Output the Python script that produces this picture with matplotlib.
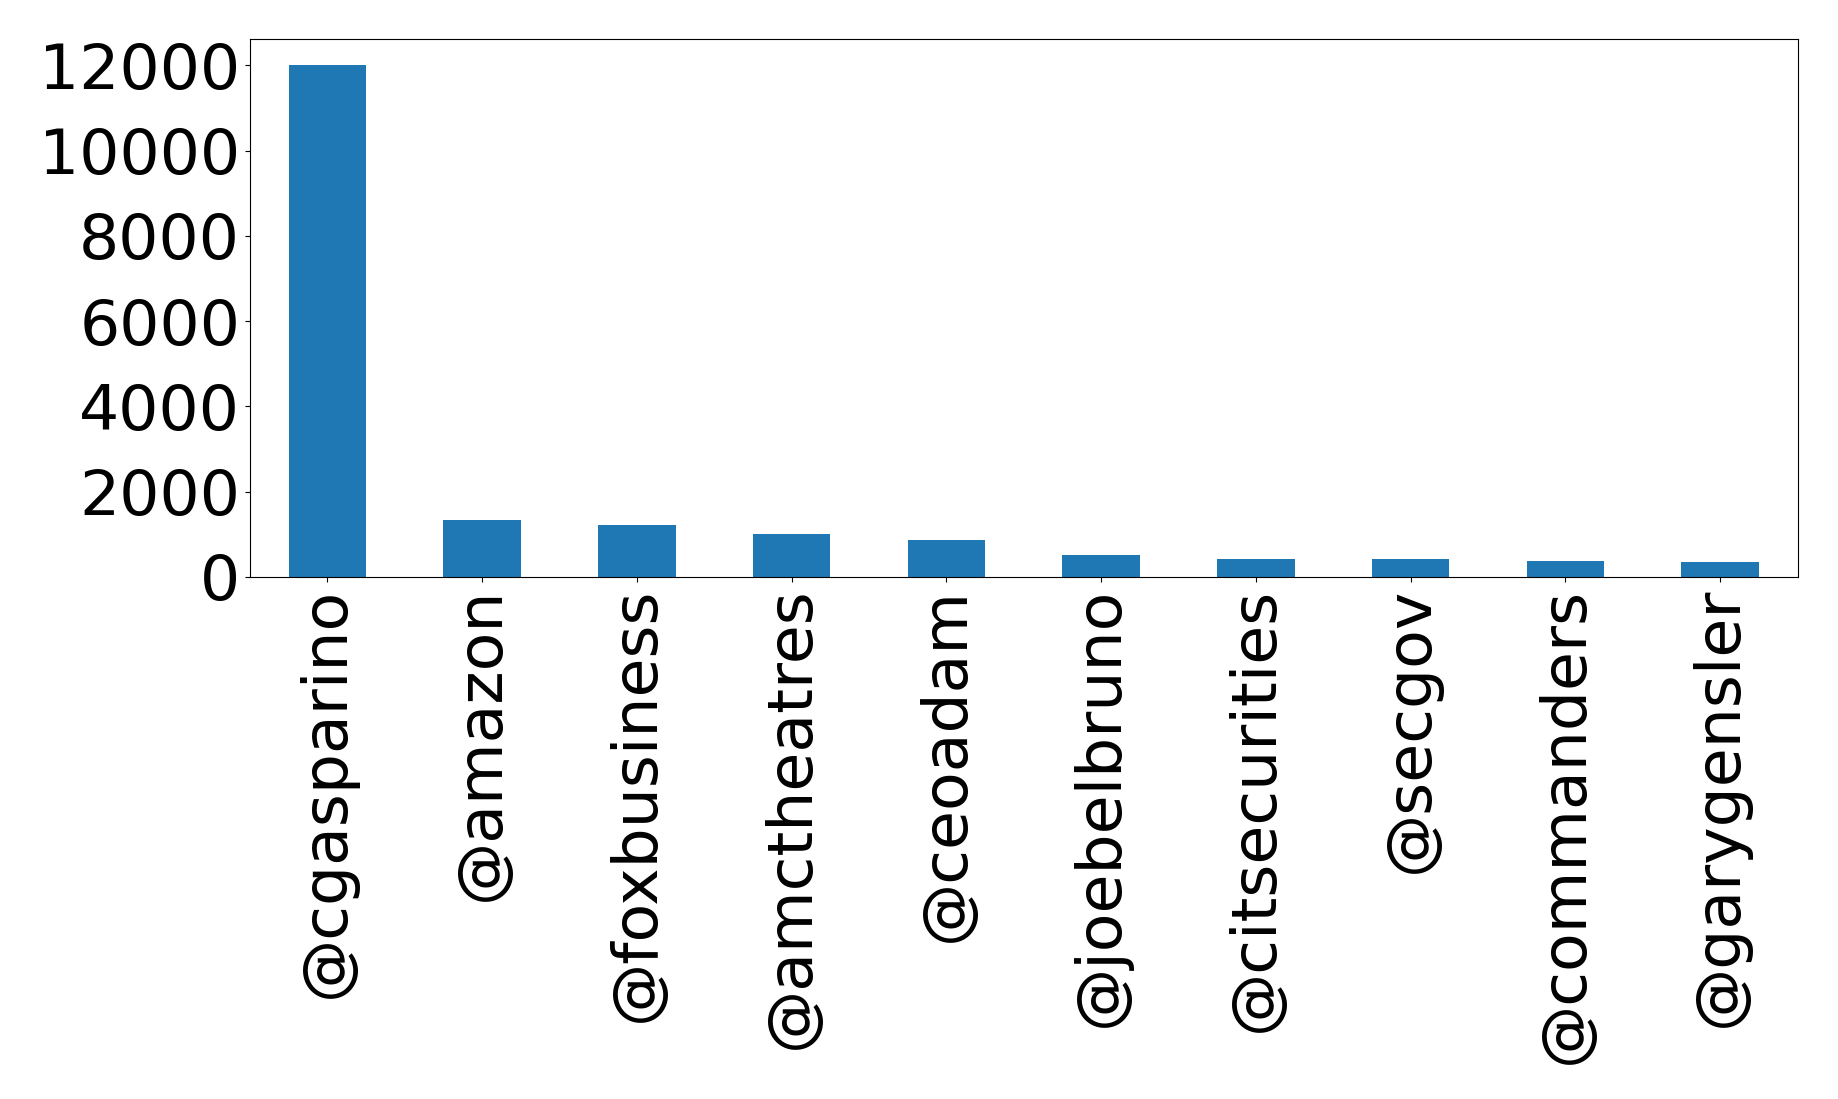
import matplotlib
matplotlib.use('Agg')
import matplotlib.pyplot as plt
import numpy as np

accounts = ['@cgasparino', '@amazon', '@foxbusiness', '@amctheatres', '@ceoadam',
            '@joebelbruno', '@citsecurities', '@secgov', '@commanders', '@garygensler']
mentions = [12020, 1333, 1217, 1007, 868, 519, 426, 425, 380, 356]
yticks = [0, 2000, 4000, 6000, 8000, 10000, 12000]

fig = plt.figure(figsize=(18.38, 10.99), dpi=100)
ax = fig.add_axes([0.136, 0.475, 0.842, 0.4895])

x = np.arange(len(accounts))
ax.bar(x, mentions, width=0.5, color='#1f77b4')
ax.set_xlim(-0.5, len(accounts) - 0.5)
ax.set_ylim(0, max(mentions) * 1.05)
ax.set_yticks(yticks)
ax.set_xticks(x)
ax.set_xticklabels(accounts, rotation=90)
ax.tick_params(axis='both', labelsize=45.5)

fig.savefig('out.png', dpi=100)
